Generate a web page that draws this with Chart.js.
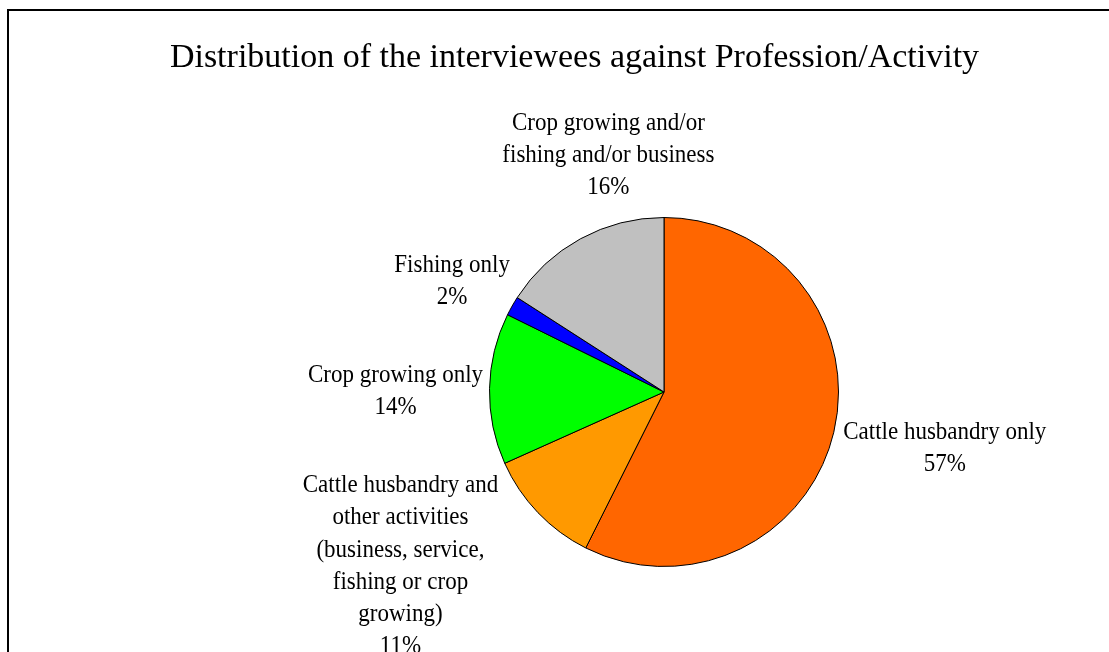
<!DOCTYPE html>
<html>
<head>
<meta charset="utf-8">
<script src="https://cdn.jsdelivr.net/npm/chart.js@4/dist/chart.umd.min.js"></script>
<style>
  html, body { margin: 0; padding: 0; background: #fff; overflow: hidden; }
  #wrap { position: relative; width: 1109px; height: 652px; }
  #frame { position: absolute; left: 7px; top: 9px; width: 1200px; height: 800px;
           border-left: 2px solid #000; border-top: 2px solid #000; box-sizing: border-box; }
  canvas { position: absolute; left: 0; top: 0; }
</style>
</head>
<body>
<div id="wrap">
  <div id="frame"></div>
  <canvas id="c" width="1109" height="652"></canvas>
</div>
<script>
// ---- data ----
const titleText = "Distribution of the interviewees against Profession/Activity";
const categories = [
  ["Cattle husbandry only"],
  ["Cattle husbandry and", "other activities", "(business, service,", "fishing or crop", "growing)"],
  ["Crop growing only"],
  ["Fishing only"],
  ["Crop growing and/or", "fishing and/or business"]
];
const shares = [57.4, 10.9, 14.0, 1.8, 15.9];
const sliceColors = ["#FF6600", "#FF9900", "#00FF00", "#0000FF", "#C0C0C0"];

// ---- label placement (offsets from slice mid-point on the rim) ----
const labelOffsets = [
  { dx: 111, dy: 0 },
  { dx: -137.5, dy: -27 },
  { dx: -94, dy: -13 },
  { dx: -60, dy: -41 },
  { dx: 28, dy: -115.5 }
];
const FONT = "'Liberation Serif', 'Times New Roman', serif";
const LABEL_SIZE = 25;
const LABEL_XSCALE = 0.92;
const LINE_H = 32.2;

const labelPlugin = {
  id: 'pieLabels',
  afterDraw(chart) {
    const ctx = chart.ctx;
    ctx.save();
    ctx.fillStyle = '#000';
    ctx.textAlign = 'center';
    ctx.textBaseline = 'middle';
    // title
    ctx.font = "34px " + FONT;
    ctx.fillText(titleText, 574.5, 58);
    // slice labels
    ctx.font = LABEL_SIZE + "px " + FONT;
    const meta = chart.getDatasetMeta(0);
    const total = shares.reduce((a, b) => a + b, 0);
    meta.data.forEach((arc, i) => {
      const p = arc.getProps(['x', 'y', 'startAngle', 'endAngle', 'outerRadius'], true);
      const mid = (p.startAngle + p.endAngle) / 2;
      const ax = p.x + Math.cos(mid) * p.outerRadius;
      const ay = p.y + Math.sin(mid) * p.outerRadius;
      const pct = Math.round(shares[i] / total * 100) + "%";
      const lines = categories[i].concat([pct]);
      const cx = ax + labelOffsets[i].dx;
      const cy = ay + labelOffsets[i].dy;
      lines.forEach((ln, k) => {
        ctx.save();
        ctx.translate(cx, cy + k * LINE_H);
        ctx.scale(LABEL_XSCALE, 1);
        ctx.fillText(ln, 0, 0);
        ctx.restore();
      });
    });
    ctx.restore();
  }
};

new Chart(document.getElementById('c'), {
  type: 'pie',
  data: {
    labels: categories.map(c => c.join(' ')),
    datasets: [{
      data: shares,
      backgroundColor: sliceColors,
      borderColor: '#000',
      borderWidth: 1
    }]
  },
  options: {
    responsive: false,
    animation: false,
    layout: { padding: { left: 489, right: 270, top: 217, bottom: 85 } },
    plugins: {
      legend: { display: false },
      title: { display: false },
      tooltip: { enabled: false }
    }
  },
  plugins: [labelPlugin]
});
</script>
</body>
</html>
